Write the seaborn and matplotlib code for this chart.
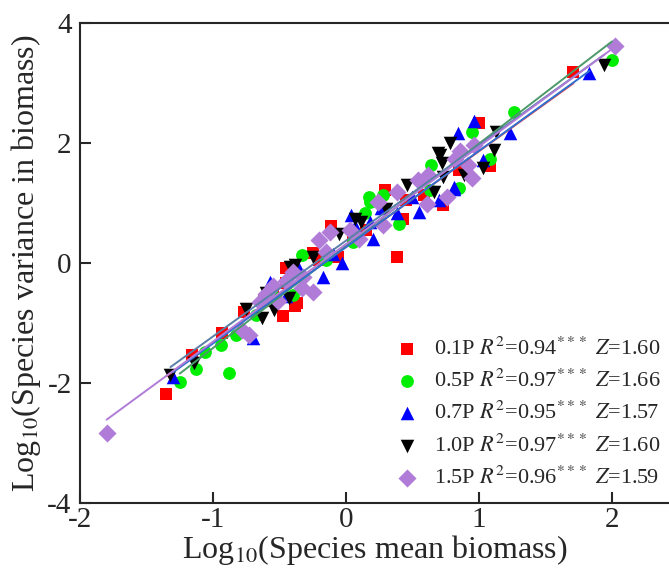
import pandas as pd
import matplotlib
matplotlib.use('Agg')
import matplotlib.pyplot as plt
import seaborn as sns

# groups and fit stats shown in the legend
groups = ['0.1P', '0.5P', '0.7P', '1.0P', '1.5P']
r2_vals = ['0.94', '0.97', '0.95', '0.97', '0.96']
z_vals = ['1.60', '1.66', '1.57', '1.60', '1.59']

# log10 mean biomass (x) and log10 variance (y)
x_01p = [-1.35, -1.16, -0.93, -0.77, -0.62, -0.47, -0.38, -0.37, -0.45, -0.45, -0.25, -0.11,
         -0.06, 0.05, 0.29, 0.43, 0.38, 0.59, 0.57, 0.73, 1.08, 1.00, 1.71, -0.20, 0.15, 0.85,
         0.45, -0.55]
y_01p = [-2.19, -1.53, -1.16, -0.81, -0.64, -0.88, -0.72, -0.67, -0.34, -0.09, 0.17, 0.61,
         0.10, 0.45, 1.22, 0.74, 0.10, 1.13, 1.38, 0.97, 1.61, 2.33, 3.19, 0.05, 0.55, 1.55,
         1.05, -0.45]

x_05p = [-1.25, -1.13, -1.06, -0.94, -0.88, -0.83, -0.68, -0.40, -0.33, 0.14, 0.18, 0.17,
         0.28, 0.63, 0.64, 0.95, 1.08, 1.26, 2.00, -0.15, 0.05, -0.55, 0.40, 0.85]
y_05p = [-1.98, -1.77, -1.49, -1.37, -1.84, -1.20, -0.87, -0.53, 0.13, 0.83, 1.02, 1.10,
         1.13, 1.22, 1.63, 2.19, 1.74, 2.52, 3.38, 0.05, 0.35, -0.55, 0.65, 1.25]

x_07p = [-1.30, -0.70, -0.57, -0.17, -0.03, 0.04, 0.07, 0.18, 0.26, 0.38, 0.81, 0.84, 0.96,
         1.03, 1.23, 1.83, 0.81, -0.35, -0.10, 0.50, 0.70, 0.20, -0.45, 0.55]
y_07p = [-1.90, -1.25, -0.31, -0.23, 0.00, 0.80, 0.61, 0.69, 0.91, 0.83, 1.27, 2.16, 2.36,
         1.72, 2.16, 3.16, 1.24, -0.10, 0.15, 1.10, 1.05, 0.40, -0.55, 0.85]

x_10p = [-1.32, -1.14, -0.75, -0.63, -0.54, -0.43, -0.42, -0.38, -0.05, 0.07, 0.11, 0.46,
         0.66, 0.69, 0.73, 0.78, 0.71, 0.72, 0.89, 1.03, 1.11, 1.13, 1.94, -0.25, 0.30, -0.60]
y_10p = [-1.87, -1.67, -0.77, -0.92, -0.78, -0.59, -0.06, -0.03, 0.49, 0.74, 0.69, 1.30,
         1.19, 1.83, 1.44, 2.00, 1.80, 1.66, 1.47, 1.58, 1.88, 2.19, 3.30, 0.10, 0.90, -0.50]

x_15p = [-1.80, -0.78, -0.73, -0.60, -0.55, -0.51, -0.40, -0.32, -0.33, -0.25, -0.20, -0.15,
         -0.12, 0.03, 0.24, 0.28, 0.38, 0.54, 0.61, 0.62, 0.76, 0.82, 0.86, 0.92, 0.95, 0.96,
         2.02, -0.65, -0.45, 0.10]
y_15p = [-2.84, -1.12, -1.20, -0.51, -0.39, -0.64, -0.15, -0.23, -0.42, -0.48, 0.38, 0.19,
         0.52, 0.55, 1.02, 0.63, 1.19, 1.38, 0.99, 1.47, 1.10, 1.74, 1.86, 1.63, 1.41, 1.97,
         3.61, -0.65, -0.30, 0.40]

xs = [x_01p, x_05p, x_07p, x_10p, x_15p]
ys = [y_01p, y_05p, y_07p, y_10p, y_15p]

df = pd.concat([pd.DataFrame({'x': x, 'y': y, 'group': g}) for g, x, y in zip(groups, xs, ys)])

point_colors = ['#ff0000', '#00ee00', '#0000ff', '#000000', '#b07cd8']
line_colors = ['#f04848', '#4c9a6a', '#2f70d0', '#5a7fa8', '#b07cd8']
markers = ['s', 'o', '^', 'v', 'D']
sizes = [70, 85, 95, 95, 85]

sns.set_style('ticks')
plt.rcParams['font.family'] = ['Liberation Serif', 'DejaVu Serif']
plt.rcParams['mathtext.fontset'] = 'stix'
plt.rcParams['axes.unicode_minus'] = False

fig = plt.figure(figsize=(6.69, 5.77), dpi=100)
ax = fig.add_axes([80 / 669, 74 / 577, 589 / 669, 480 / 577])

for g, c, m, s, r2, z in zip(groups, point_colors, markers, sizes, r2_vals, z_vals):
    label = g + r' $R^2$=' + r2 + r'$^{***}$ $Z$=' + z
    sns.scatterplot(data=df[df['group'] == g], x='x', y='y', color=c, marker=m, s=s,
                    linewidth=0, label=label, ax=ax, zorder=2)

for g, c in zip(groups, line_colors):
    sns.regplot(data=df[df['group'] == g], x='x', y='y', scatter=False, ci=None,
                color=c, line_kws={'linewidth': 1.4, 'zorder': 3}, ax=ax)

ax.set_xlim(-2, 2.429)
ax.set_ylim(-4, 4)
ax.set_xticks([-2, -1, 0, 1, 2])
ax.set_yticks([-4, -2, 0, 2, 4])
ax.tick_params(direction='in', length=8, width=1.5, labelsize=21)
ax.tick_params(axis='y', pad=6)
ax.tick_params(axis='x', pad=3)
for side in ['left', 'bottom', 'top']:
    ax.spines[side].set_linewidth(1.5)
    ax.spines[side].set_visible(True)
ax.spines['right'].set_visible(False)

ax.set_xlabel(r'Log$_{10}$(Species mean biomass)', fontsize=23, labelpad=0)
ax.set_ylabel(r'Log$_{10}$(Species variance in biomass)', fontsize=23, labelpad=3)

ax.legend(loc='lower right', bbox_to_anchor=(0.985, 0.03), frameon=False, fontsize=16,
          handletextpad=0.2, labelspacing=0.45, borderpad=0, borderaxespad=0)

fig.savefig('out.png', dpi=100)
